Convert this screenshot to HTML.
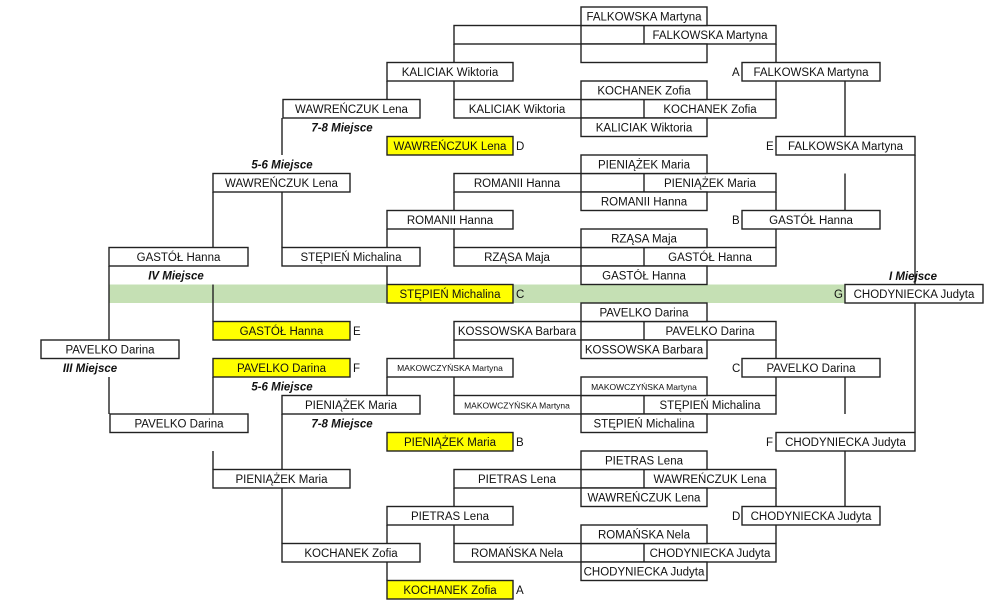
<!DOCTYPE html>
<html><head><meta charset="utf-8"><style>
html,body{margin:0;padding:0;background:#fff;}
svg{display:block;}
text{font-family:"Liberation Sans",sans-serif;font-size:11.5px;fill:#111;text-anchor:middle;}
.s{font-size:8.5px;}
.l{font-weight:bold;font-style:italic;font-size:11.5px;}
.a{text-anchor:start;}
rect{fill:#fff;stroke:#222;stroke-width:1.4;}
.y{fill:#ffff00;}
line{stroke:#222;stroke-width:1.4;}
</style></head><body>
<svg width="1000" height="608" xmlns="http://www.w3.org/2000/svg">
<rect x="109" y="284.5" width="736" height="18.5" style="fill:#c5e0b4;stroke:none"/>

<!-- Quarter 0 -->
<rect x="454" y="25.5" width="322" height="18.5"/><line x1="581" y1="25.5" x2="581" y2="44"/><line x1="644" y1="25.5" x2="644" y2="44"/>
<rect x="581" y="7" width="126" height="18.5"/><rect x="581" y="44" width="126" height="18.5"/>
<text x="644" y="20.5">FALKOWSKA Martyna</text><text x="710" y="39">FALKOWSKA Martyna</text>
<rect x="454" y="99.5" width="322" height="18.5"/><line x1="581" y1="99.5" x2="581" y2="118"/><line x1="644" y1="99.5" x2="644" y2="118"/>
<rect x="581" y="81" width="126" height="18.5"/><rect x="581" y="118" width="126" height="18.5"/>
<text x="644" y="94.5">KOCHANEK Zofia</text><text x="517" y="113">KALICIAK Wiktoria</text><text x="710" y="113">KOCHANEK Zofia</text><text x="644" y="131.5">KALICIAK Wiktoria</text>
<line x1="454" y1="44" x2="454" y2="62.5"/><line x1="776" y1="44" x2="776" y2="62.5"/><line x1="454" y1="81" x2="454" y2="99.5"/><line x1="776" y1="81" x2="776" y2="99.5"/>
<rect x="387" y="62.5" width="126" height="18.5"/><text x="450" y="76">KALICIAK Wiktoria</text>
<rect x="742" y="62.5" width="138" height="18.5"/><text x="811" y="76">FALKOWSKA Martyna</text><text class="a" x="732" y="76">A</text>

<!-- Quarter 1 -->
<rect x="454" y="173.5" width="322" height="18.5"/><line x1="581" y1="173.5" x2="581" y2="192"/><line x1="644" y1="173.5" x2="644" y2="192"/>
<rect x="581" y="155" width="126" height="18.5"/><rect x="581" y="192" width="126" height="18.5"/>
<text x="644" y="168.5">PIENIĄŻEK Maria</text><text x="517" y="187">ROMANII Hanna</text><text x="710" y="187">PIENIĄŻEK Maria</text><text x="644" y="205.5">ROMANII Hanna</text>
<rect x="454" y="247.5" width="322" height="18.5"/><line x1="581" y1="247.5" x2="581" y2="266"/><line x1="644" y1="247.5" x2="644" y2="266"/>
<rect x="581" y="229" width="126" height="18.5"/><rect x="581" y="266" width="126" height="18.5"/>
<text x="644" y="242.5">RZĄSA Maja</text><text x="517" y="261">RZĄSA Maja</text><text x="710" y="261">GASTÓŁ Hanna</text><text x="644" y="279.5">GASTÓŁ Hanna</text>
<line x1="454" y1="192" x2="454" y2="210.5"/><line x1="776" y1="192" x2="776" y2="210.5"/><line x1="454" y1="229" x2="454" y2="247.5"/><line x1="776" y1="229" x2="776" y2="247.5"/>
<rect x="387" y="210.5" width="126" height="18.5"/><text x="450" y="224">ROMANII Hanna</text>
<rect x="742" y="210.5" width="138" height="18.5"/><text x="811" y="224">GASTÓŁ Hanna</text><text class="a" x="732" y="224">B</text>

<!-- Quarter 2 -->
<rect x="454" y="321.5" width="322" height="18.5"/><line x1="581" y1="321.5" x2="581" y2="340"/><line x1="644" y1="321.5" x2="644" y2="340"/>
<rect x="581" y="303" width="126" height="18.5"/><rect x="581" y="340" width="126" height="18.5"/>
<text x="644" y="316.5">PAVELKO Darina</text><text x="517" y="335">KOSSOWSKA Barbara</text><text x="710" y="335">PAVELKO Darina</text><text x="644" y="353.5">KOSSOWSKA Barbara</text>
<rect x="454" y="395.5" width="322" height="18.5"/><line x1="581" y1="395.5" x2="581" y2="414"/><line x1="644" y1="395.5" x2="644" y2="414"/>
<rect x="581" y="377" width="126" height="18.5"/><rect x="581" y="414" width="126" height="18.5"/>
<text class="s" x="644" y="390">MAKOWCZYŃSKA Martyna</text><text class="s" x="517" y="408.5">MAKOWCZYŃSKA Martyna</text><text x="710" y="409">STĘPIEŃ Michalina</text><text x="644" y="427.5">STĘPIEŃ Michalina</text>
<line x1="454" y1="340" x2="454" y2="358.5"/><line x1="776" y1="340" x2="776" y2="358.5"/><line x1="454" y1="377" x2="454" y2="395.5"/><line x1="776" y1="377" x2="776" y2="395.5"/>
<rect x="387" y="358.5" width="126" height="18.5"/><text class="s" x="450" y="371">MAKOWCZYŃSKA Martyna</text>
<rect x="742" y="358.5" width="138" height="18.5"/><text x="811" y="372">PAVELKO Darina</text><text class="a" x="732" y="372">C</text>

<!-- Quarter 3 -->
<rect x="454" y="469.5" width="322" height="18.5"/><line x1="581" y1="469.5" x2="581" y2="488"/><line x1="644" y1="469.5" x2="644" y2="488"/>
<rect x="581" y="451" width="126" height="18.5"/><rect x="581" y="488" width="126" height="18.5"/>
<text x="644" y="464.5">PIETRAS Lena</text><text x="517" y="483">PIETRAS Lena</text><text x="710" y="483">WAWREŃCZUK Lena</text><text x="644" y="501.5">WAWREŃCZUK Lena</text>
<rect x="454" y="543.5" width="322" height="18.5"/><line x1="581" y1="543.5" x2="581" y2="562"/><line x1="644" y1="543.5" x2="644" y2="562"/>
<rect x="581" y="525" width="126" height="18.5"/><rect x="581" y="562" width="126" height="18.5"/>
<text x="644" y="538.5">ROMAŃSKA Nela</text><text x="517" y="557">ROMAŃSKA Nela</text><text x="710" y="557">CHODYNIECKA Judyta</text><text x="644" y="575.5">CHODYNIECKA Judyta</text>
<line x1="454" y1="488" x2="454" y2="506.5"/><line x1="776" y1="488" x2="776" y2="506.5"/><line x1="454" y1="525" x2="454" y2="543.5"/><line x1="776" y1="525" x2="776" y2="543.5"/>
<rect x="387" y="506.5" width="126" height="18.5"/><text x="450" y="520">PIETRAS Lena</text>
<rect x="742" y="506.5" width="138" height="18.5"/><text x="811" y="520">CHODYNIECKA Judyta</text><text class="a" x="732" y="520">D</text>

<!-- right side -->
<line x1="845" y1="81" x2="845" y2="136.5"/><line x1="845" y1="173.5" x2="845" y2="210.5"/>
<line x1="845" y1="377" x2="845" y2="414"/><line x1="845" y1="451" x2="845" y2="506.5"/>
<line x1="915" y1="155" x2="915" y2="284.5"/><line x1="915" y1="303" x2="915" y2="432.5"/>
<rect x="776" y="136.5" width="139" height="18.5"/><text x="845.5" y="150">FALKOWSKA Martyna</text><text class="a" x="766" y="150">E</text>
<rect x="776" y="432.5" width="139" height="18.5"/><text x="845.5" y="446">CHODYNIECKA Judyta</text><text class="a" x="766" y="446">F</text>
<rect x="845" y="284.5" width="138" height="18.5"/><text x="914" y="298">CHODYNIECKA Judyta</text><text class="a" x="834" y="298">G</text>
<text class="l" x="913" y="280">I Miejsce</text>

<!-- left verticals -->
<line x1="387" y1="81" x2="387" y2="99.5"/><line x1="387" y1="229" x2="387" y2="247.5"/><line x1="387" y1="266" x2="387" y2="284.5"/>
<line x1="387" y1="377" x2="387" y2="395.5"/><line x1="387" y1="525" x2="387" y2="543.5"/><line x1="387" y1="562" x2="387" y2="580.5"/>
<line x1="282" y1="118" x2="282" y2="155"/>
<line x1="213" y1="192" x2="213" y2="247.5"/><line x1="282" y1="192" x2="282" y2="247.5"/>
<line x1="109" y1="266" x2="109" y2="340"/>
<line x1="213" y1="284.5" x2="213" y2="321.5"/>
<line x1="109" y1="377" x2="109" y2="414"/><line x1="213" y1="377" x2="213" y2="414"/>
<line x1="282" y1="414" x2="282" y2="469.5"/><line x1="213" y1="451" x2="213" y2="469.5"/>
<line x1="282" y1="488" x2="282" y2="543.5"/>

<!-- left boxes -->
<rect x="283" y="99.5" width="137" height="18.5"/><text x="351.5" y="113">WAWREŃCZUK Lena</text>
<text class="l" x="342" y="131.5">7-8 Miejsce</text>
<rect class="y" x="387" y="136.5" width="126" height="18.5"/><text x="450" y="150">WAWREŃCZUK Lena</text><text class="a" x="516" y="150">D</text>
<text class="l" x="282" y="168.5">5-6 Miejsce</text>
<rect x="213" y="173.5" width="137" height="18.5"/><text x="281.5" y="187">WAWREŃCZUK Lena</text>
<rect x="109" y="247.5" width="139" height="18.5"/><text x="178.5" y="261">GASTÓŁ Hanna</text>
<rect x="282" y="247.5" width="138" height="18.5"/><text x="351" y="261">STĘPIEŃ Michalina</text>
<text class="l" x="176" y="279.5">IV Miejsce</text>
<rect class="y" x="387" y="284.5" width="126" height="18.5"/><text x="450" y="298">STĘPIEŃ Michalina</text><text class="a" x="516" y="298">C</text>
<rect class="y" x="213" y="321.5" width="137" height="18.5"/><text x="281.5" y="335">GASTÓŁ Hanna</text><text class="a" x="353" y="335">E</text>
<rect x="41" y="340" width="138" height="18.5"/><text x="110" y="353.5">PAVELKO Darina</text>
<rect class="y" x="213" y="358.5" width="137" height="18.5"/><text x="281.5" y="372">PAVELKO Darina</text><text class="a" x="353" y="372">F</text>
<text class="l" x="90" y="372">III Miejsce</text>
<text class="l" x="282" y="390.5">5-6 Miejsce</text>
<rect x="282" y="395.5" width="138" height="18.5"/><text x="351" y="409">PIENIĄŻEK Maria</text>
<rect x="110" y="414" width="138" height="18.5"/><text x="179" y="427.5">PAVELKO Darina</text>
<text class="l" x="342" y="427.5">7-8 Miejsce</text>
<rect class="y" x="387" y="432.5" width="126" height="18.5"/><text x="450" y="446">PIENIĄŻEK Maria</text><text class="a" x="516" y="446">B</text>
<rect x="213" y="469.5" width="137" height="18.5"/><text x="281.5" y="483">PIENIĄŻEK Maria</text>
<rect x="282" y="543.5" width="138" height="18.5"/><text x="351" y="557">KOCHANEK Zofia</text>
<rect class="y" x="387" y="580.5" width="126" height="18.5"/><text x="450" y="594">KOCHANEK Zofia</text><text class="a" x="516" y="594">A</text>
</svg>
</body></html>
